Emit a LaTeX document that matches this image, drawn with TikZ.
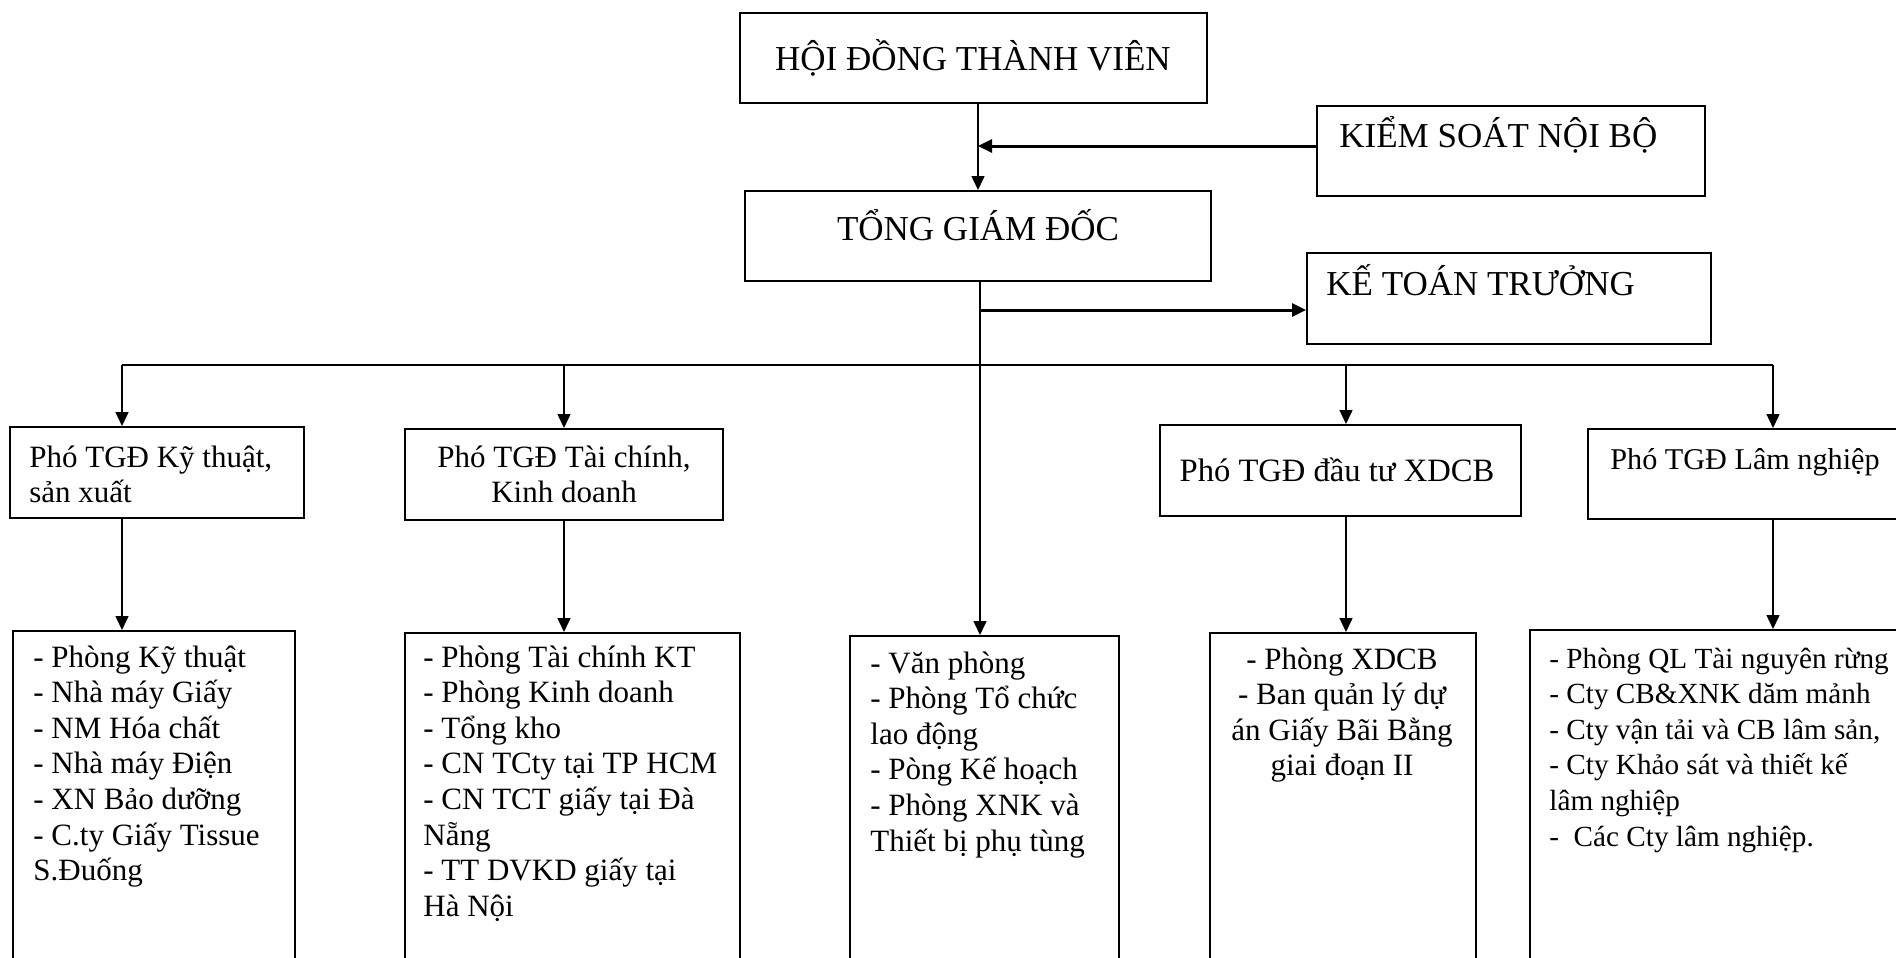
\documentclass[tikz,border=0pt]{standalone}
\usepackage{fontspec}
\setmainfont{Liberation Serif}
\usetikzlibrary{arrows.meta}
\newcommand{\Lt}[1]{\vtop{\let\\\cr\baselineskip=17.8pt\lineskiplimit=-\maxdimen\halign{##\hfil\cr#1\crcr}}}
\newcommand{\Ct}[1]{\vtop{\let\\\cr\baselineskip=17.8pt\lineskiplimit=-\maxdimen\halign{\hfil##\hfil\cr#1\crcr}}}
\begin{document}
\begin{tikzpicture}[x=0.5pt,y=-0.5pt,
  box/.style={draw, line width=1pt, inner sep=0pt},
  sz/.style 2 args={minimum width={#1*0.5pt}, minimum height={#2*0.5pt}},
  txt/.style={inner sep=0pt, font=\fontsize{15.5}{17.8}\selectfont},
  big/.style={inner sep=0pt, font=\fontsize{17.5}{20}\selectfont},
  ln/.style={line width=0.75pt},
  arr/.style={ln, -{Triangle[length=7pt,width=6.5pt]}},
  tarr/.style={line width=1.5pt, -{Triangle[length=7pt,width=6.5pt]}}]
\useasboundingbox (0,0) rectangle (1896,958);
\clip (0,0) rectangle (1896,958);
% boxes
\node[box, sz={467}{90}] (hdtv) at (973.5,58) {};
\node[box, sz={388}{90}] (ksnb) at (1511,151) {};
\node[box, sz={466}{90}] (tgd) at (978,236) {};
\node[box, sz={404}{91}] (ktt) at (1509,298.5) {};
\node[box, sz={294}{91}] (m1) at (157,472.5) {};
\node[box, sz={318}{91}] (m2) at (564,474.5) {};
\node[box, sz={361}{91}] (m4) at (1340.5,470.5) {};
\node[box, sz={372}{90}] (m5) at (1774,474) {};
\node[box, sz={282}{369}] (b1) at (154,815.5) {};
\node[box, sz={335}{367}] (b2) at (572.5,816.5) {};
\node[box, sz={269}{364}] (b3) at (984.5,818) {};
\node[box, sz={266}{367}] (b4) at (1343,816.5) {};
\node[box, sz={430}{370}] (b5) at (1745,815) {};
% texts
\node[big, anchor=base] (thdtv) at (973,70) {HỘI ĐỒNG THÀNH VIÊN};
\node[big, anchor=base west] (tksnb) at (1339,147) {KIỂM SOÁT NỘI BỘ};
\node[big, anchor=base] (ttgd) at (978,240) {TỔNG GIÁM ĐỐC};
\node[big, anchor=base west] (tktt) at (1326,295) {KẾ TOÁN TRƯỞNG};
\node[txt, anchor=base west] (tm1) at (29,467) {\Lt{Phó TGĐ Kỹ thuật,\\sản xuất}};
\node[txt, anchor=base] (tm2) at (564,467) {\Ct{Phó TGĐ Tài chính,\\Kinh doanh}};
\node[txt, anchor=base, font=\fontsize{16.3}{17.8}\selectfont] (tm4) at (1337,481) {Phó TGĐ đầu tư XDCB};
\node[txt, anchor=base west, font=\fontsize{15.1}{17.8}\selectfont] (tm5) at (1610,469) {Phó TGĐ Lâm nghiệp};
\node[txt, anchor=base west] (tb1) at (33,667) {\Lt{- Phòng Kỹ thuật\\- Nhà máy Giấy\\- NM Hóa chất\\- Nhà máy Điện\\- XN Bảo dưỡng\\- C.ty Giấy Tissue\\S.Đuống}};
\node[txt, anchor=base west] (tb2) at (423,667) {\Lt{- Phòng Tài chính KT\\- Phòng Kinh doanh\\- Tổng kho\\- CN TCty tại TP HCM\\- CN TCT giấy tại Đà\\Nẵng\\- TT DVKD giấy tại\\Hà Nội}};
\node[txt, anchor=base west] (tb3) at (870,673) {\Lt{- Văn phòng\\- Phòng Tổ chức\\lao động\\- Pòng Kế hoạch\\- Phòng XNK và\\Thiết bị phụ tùng}};
\node[txt, anchor=base] (tb4) at (1342,669) {\Ct{- Phòng XDCB\\- Ban quản lý dự\\án Giấy Bãi Bằng\\giai đoạn II}};
\node[txt, anchor=base west, font=\fontsize{14.6}{17.8}\selectfont] (tb5) at (1549,668) {\Lt{- Phòng QL Tài nguyên rừng\\- Cty CB\&XNK dăm mảnh\\- Cty vận tải và CB lâm sản,\\- Cty Khảo sát và thiết kế\\lâm nghiệp\\- \ Các Cty lâm nghiệp.}};
% junctions
\coordinate (j1) at (978,146);
\coordinate (j2) at (980,310);
\coordinate (d1) at (122,365);
\coordinate (d2) at (564,365);
\coordinate (d4) at (1346,365);
\coordinate (d5) at (1773,365);
% connectors
\draw[arr] (j1 |- hdtv.south) -- (j1 |- tgd.north);
\draw[tarr] (ksnb.west |- j1) -- (j1);
\draw[arr] (j2 |- tgd.south) -- (j2 |- b3.north);
\draw[tarr] (j2) -- (j2 -| ktt.west);
\draw[ln] (d1) -- (d5);
\draw[arr] (d1) -- (d1 |- m1.north);
\draw[arr] (d2) -- (d2 |- m2.north);
\draw[arr] (d4) -- (d4 |- m4.north);
\draw[arr] (d5) -- (d5 |- m5.north);
\draw[arr] (d1 |- m1.south) -- (d1 |- b1.north);
\draw[arr] (d2 |- m2.south) -- (d2 |- b2.north);
\draw[arr] (d4 |- m4.south) -- (d4 |- b4.north);
\draw[arr] (d5 |- m5.south) -- (d5 |- b5.north);
\end{tikzpicture}
\end{document}
